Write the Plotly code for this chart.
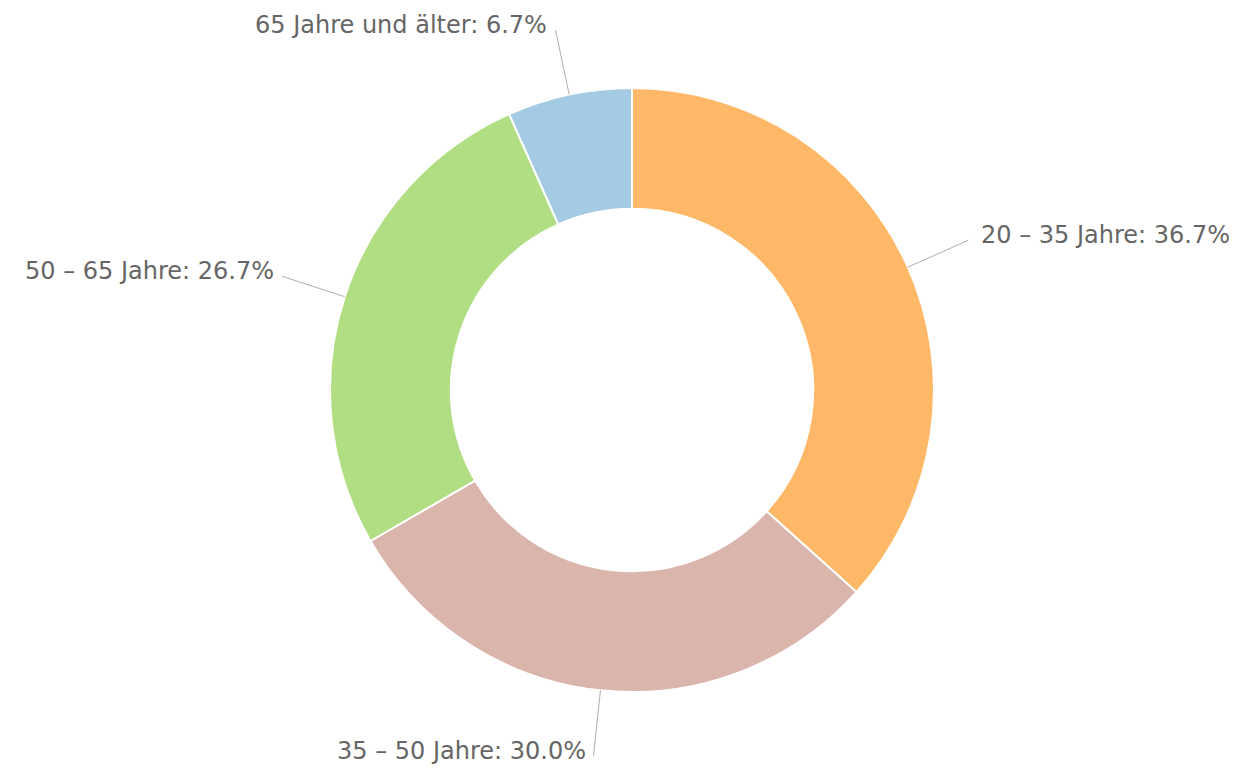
import math
import plotly.graph_objects as go

labels = ["20 – 35 Jahre", "35 – 50 Jahre", "50 – 65 Jahre", "65 Jahre und älter"]
values = [11, 9, 8, 2]
colors = ["#FFB867", "#DAB5AC", "#B1DE83", "#A5CBE4"]

OFF = 8  # page body margin
W, H = 1245 - OFF, 771 - OFF
cx, cy, R = 632 - OFF, 390 - OFF, 302
hole = 0.6
conn_len = 66
gap_right, gap_left = 11, 6
text_dy = -5

fig = go.Figure(go.Pie(
    labels=labels, values=values, hole=hole, sort=False,
    direction="clockwise", rotation=0,
    marker=dict(colors=colors, line=dict(color="white", width=2)),
    textinfo="none", hoverinfo="label+percent", showlegend=False,
    domain=dict(x=[(cx - R) / W, (cx + R) / W], y=[1 - (cy + R) / H, 1 - (cy - R) / H]),
))

total = sum(values)
cum = 0
shapes, annotations = [], []
for lab, v, c in zip(labels, values, colors):
    mid = (cum + v / 2) / total * 2 * math.pi
    cum += v
    dx, dy = math.sin(mid), -math.cos(mid)
    x0, y0 = cx + R * dx, cy + R * dy
    x1, y1 = cx + (R + conn_len) * dx, cy + (R + conn_len) * dy
    shapes.append(dict(type="line", xref="paper", yref="paper",
                       x0=x0 / W, y0=1 - y0 / H, x1=x1 / W, y1=1 - y1 / H,
                       line=dict(color="#B0B0A4", width=1)))
    right = dx >= 0
    tx = x1 + (gap_right if right else -gap_left)
    pct = v / total * 100
    annotations.append(dict(
        x=tx / W, y=1 - (y1 + text_dy) / H, xref="paper", yref="paper",
        text=f"{lab}: {pct:.1f}%", showarrow=False,
        xanchor="left" if right else "right", yanchor="middle",
        font=dict(family="DejaVu Sans", size=24, color="#666666"),
    ))

fig.update_layout(
    width=W, height=H, margin=dict(l=0, r=0, t=0, b=0),
    paper_bgcolor="white", plot_bgcolor="white",
    shapes=shapes, annotations=annotations,
)
fig.write_html("out.html")
